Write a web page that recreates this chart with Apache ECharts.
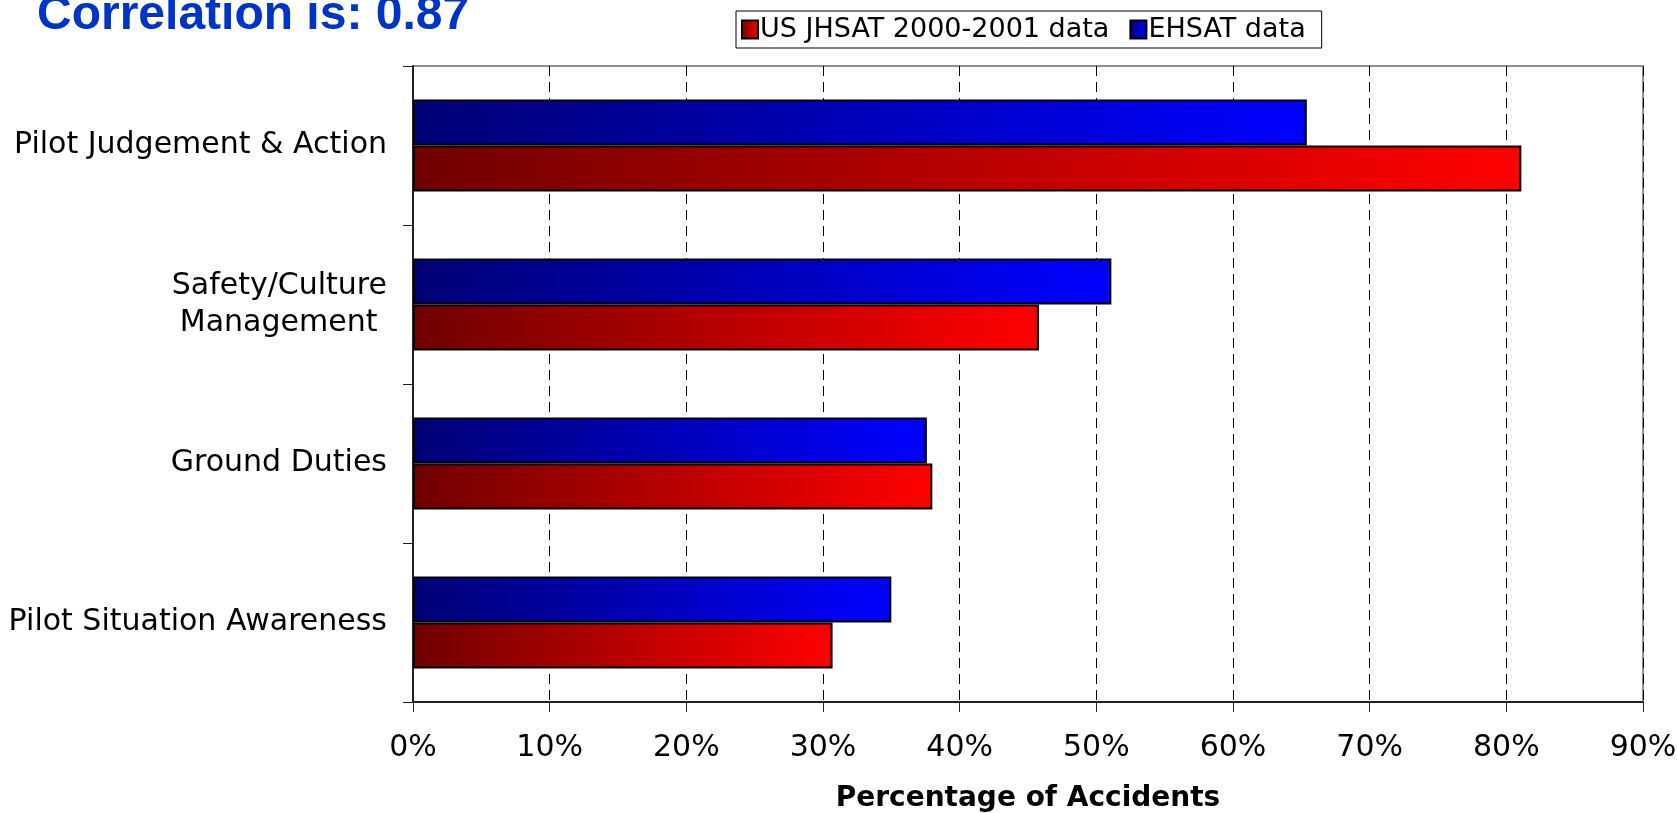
<!DOCTYPE html>
<html>
<head>
<meta charset="utf-8">
<script src="https://cdn.jsdelivr.net/npm/echarts@6/dist/echarts.min.js"></script>
<style>
  html, body { margin: 0; padding: 0; background: #fff; }
  #chart { width: 1677px; height: 813px; }
</style>
</head>
<body>
<div id="chart"></div>
<script>
const titleText = 'Correlation is: 0.87';
const categories = ['Pilot Judgement & Action', 'Safety/Culture\nManagement ', 'Ground Duties', 'Pilot Situation Awareness'];
const seriesNames = ['US JHSAT 2000-2001 data', 'EHSAT data'];
const usJhsat = [81.1, 45.8, 38.0, 30.7];
const ehsat = [65.4, 51.1, 37.6, 35.0];
const xTicks = [0, 10, 20, 30, 40, 50, 60, 70, 80, 90];
const xAxisTitle = 'Percentage of Accidents';

const chart = echarts.init(document.getElementById('chart'), null, { renderer: 'canvas' });

const redGrad = new echarts.graphic.LinearGradient(0, 0, 1, 0, [
  { offset: 0, color: '#700000' }, { offset: 1, color: '#ff0000' }
]);
const blueGrad = new echarts.graphic.LinearGradient(0, 0, 1, 0, [
  { offset: 0, color: '#000074' }, { offset: 1, color: '#0000ff' }
]);

const F = 'DejaVu Sans';

chart.setOption({
  animation: false,
  backgroundColor: '#fff',
  title: {
    text: titleText,
    left: 37,
    top: -8,
    padding: 0,
    textStyle: { fontFamily: 'Liberation Sans', fontWeight: 'bold', fontSize: 48, color: '#0033cc' }
  },
  legend: {
    data: seriesNames,
    left: 736,
    top: 11,
    orient: 'horizontal',
    icon: 'rect',
    padding: [5, 16, 5, 5],
    itemGap: 20,
    itemWidth: 16,
    itemHeight: 18,
    backgroundColor: '#fff',
    borderColor: '#000',
    borderWidth: 1,
    borderRadius: 0,
    textStyle: { fontFamily: F, fontSize: 27, color: '#000', padding: [0, 0, 0, -3] }
  },
  grid: {
    left: 413, right: 34, top: 66, bottom: 111,
    outerBoundsMode: 'none',
    containLabel: false,
    show: true, borderColor: '#909090', borderWidth: 2, backgroundColor: 'transparent'
  },
  xAxis: {
    type: 'value',
    min: 0, max: 90, interval: 10,
    name: xAxisTitle,
    nameLocation: 'middle',
    nameGap: 83,
    nameTextStyle: { fontFamily: F, fontWeight: 'bold', fontSize: 28, color: '#000' },
    axisLine: { show: true, lineStyle: { color: '#222', width: 2 } },
    axisTick: { show: true, length: 10, lineStyle: { color: '#222', width: 1 } },
    axisLabel: {
      fontFamily: F, fontSize: 30, color: '#000', margin: 31,
      formatter: function (v) { return xTicks.indexOf(v) >= 0 ? v + '%' : ''; }
    },
    splitLine: { show: true, lineStyle: { color: '#000', type: [10, 6], width: 1 } }
  },
  yAxis: {
    type: 'category',
    inverse: true,
    data: categories,
    axisLine: { show: true, lineStyle: { color: '#222', width: 2 } },
    axisTick: { show: true, length: 10, lineStyle: { color: '#222', width: 1 } },
    axisLabel: { fontFamily: F, fontSize: 30, color: '#000', margin: 26, lineHeight: 37, align: 'right' },
    splitLine: { show: false }
  },
  series: [
    {
      name: seriesNames[1],
      type: 'bar',
      data: ehsat,
      barWidth: 46,
      barGap: '0%',
      itemStyle: { color: blueGrad, borderColor: '#000', borderWidth: 2 }
    },
    {
      name: seriesNames[0],
      type: 'bar',
      data: usJhsat,
      barWidth: 46,
      barGap: '0%',
      itemStyle: { color: redGrad, borderColor: '#000', borderWidth: 2 }
    }
  ]
});
</script>
</body>
</html>
